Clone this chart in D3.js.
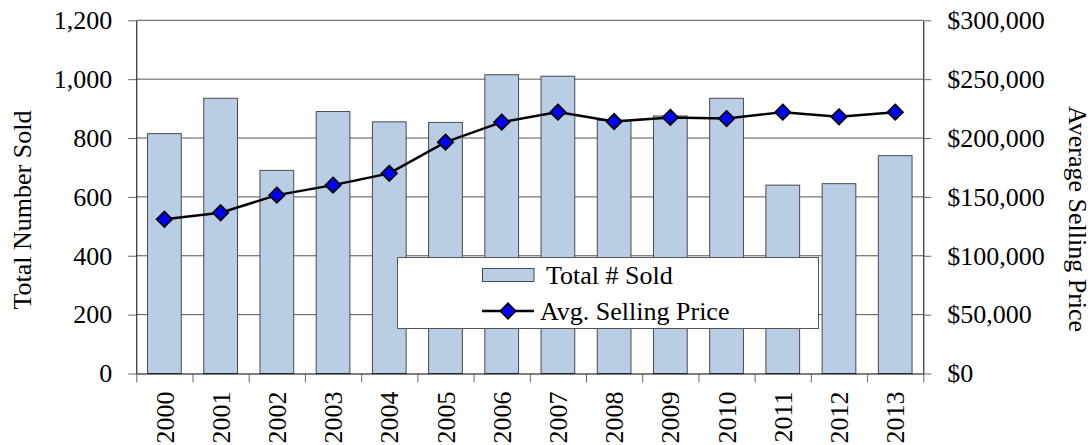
<!DOCTYPE html>
<html>
<head>
<meta charset="utf-8">
<script src="https://cdn.jsdelivr.net/npm/d3@7"></script>
<style>
  body { margin: 0; background: #fff; }
</style>
</head>
<body>
<svg id="chart" width="1092" height="445"></svg>
<script>
// data
const years = ["2000", "2001", "2002", "2003", "2004", "2005", "2006", "2007", "2008", "2009", "2010", "2011", "2012", "2013"];
const totalSold = [815, 935, 690, 890, 855, 853, 1015, 1010, 860, 875, 935, 640, 645, 740];
const avgPrice = [131000, 136500, 151500, 160000, 170000, 196500, 213500, 222000, 214000, 217500, 216500, 222000, 218000, 222000];
const leftTicks = [0, 200, 400, 600, 800, 1000, 1200];
const rightTicks = [0, 50000, 100000, 150000, 200000, 250000, 300000];

const svg = d3.select("#chart");
const font = "Liberation Serif";
const plotL = 136.3, plotR = 923.3, plotT = 20.3, plotB = 373.5;
const fs = 26;

let x = d3.scaleBand().domain(years).range([plotL, plotR]).paddingInner(0.4).paddingOuter(0.2);
let xEdges = d3.scaleLinear().domain([0, years.length]).range([plotL, plotR]);
let yL = d3.scaleLinear().domain([0, 1200]).range([plotB, plotT]);
let yR = d3.scaleLinear().domain([0, 300000]).range([plotB, plotT]);

// gridlines
svg.append("g").selectAll("line").data(leftTicks.filter(d => d > 0)).join("line")
  .attr("x1", plotL).attr("x2", plotR)
  .attr("y1", d => yL(d)).attr("y2", d => yL(d))
  .attr("stroke", "#555").attr("stroke-width", 1);

// bars
svg.append("g").selectAll("rect").data(totalSold).join("rect")
  .attr("x", (d, i) => x(years[i]))
  .attr("y", d => yL(d))
  .attr("width", x.bandwidth())
  .attr("height", d => plotB - yL(d))
  .attr("fill", "#b9cde5").attr("stroke", "#4a4a4a").attr("stroke-width", 1);

// left axis
let gL = svg.append("g").attr("transform", `translate(${plotL},0)`)
  .call(d3.axisLeft(yL).tickValues(leftTicks).tickSize(8).tickSizeOuter(0).tickPadding(16).tickFormat(d3.format(",")));
gL.attr("font-family", font).attr("font-size", fs);
gL.select(".domain").attr("stroke", "#000");
gL.selectAll(".tick line").attr("stroke", "#666");

// right axis
let gR = svg.append("g").attr("transform", `translate(${plotR},0)`)
  .call(d3.axisRight(yR).tickValues(rightTicks).tickSize(8).tickSizeOuter(0).tickPadding(16).tickFormat(d => "$" + d3.format(",")(d)));
gR.attr("font-family", font).attr("font-size", fs);
gR.select(".domain").attr("stroke", "#000");
gR.selectAll(".tick line").attr("stroke", "#666");

// bottom axis: ticks at category edges
let gB = svg.append("g").attr("transform", `translate(0,${plotB})`)
  .call(d3.axisBottom(xEdges).tickValues(d3.range(years.length + 1)).tickSize(9).tickSizeOuter(0).tickFormat(""));
gB.select(".domain").attr("stroke", "#000");
gB.selectAll(".tick line").attr("stroke", "#666");

// year labels
svg.append("g").attr("font-family", font).attr("font-size", fs)
  .selectAll("text").data(years).join("text")
  .attr("transform", d => `translate(${x(d) + x.bandwidth() / 2},${plotB + 18}) rotate(-90)`)
  .attr("text-anchor", "end").attr("dy", "0.35em")
  .text(d => d);

// price line
let line = d3.line().x((d, i) => x(years[i]) + x.bandwidth() / 2).y(d => yR(d));
svg.append("path").datum(avgPrice).attr("d", line)
  .attr("fill", "none").attr("stroke", "#000").attr("stroke-width", 2.5);

let diamond = d3.symbol().type(d3.symbolDiamond2).size(150);
svg.append("g").selectAll("path").data(avgPrice).join("path")
  .attr("transform", (d, i) => `translate(${x(years[i]) + x.bandwidth() / 2},${yR(d)})`)
  .attr("d", diamond)
  .attr("fill", "#0000ff").attr("stroke", "#000").attr("stroke-width", 1.8);

// axis titles
svg.append("text").attr("transform", "translate(22,210) rotate(-90)")
  .attr("font-family", font).attr("font-size", fs)
  .attr("text-anchor", "middle").attr("dy", "0.35em").text("Total Number Sold");
svg.append("text").attr("transform", "translate(1078,219) rotate(90)")
  .attr("font-family", font).attr("font-size", fs)
  .attr("text-anchor", "middle").attr("dy", "0.35em").text("Average Selling Price");

// legend
let lg = svg.append("g").attr("font-family", font).attr("font-size", fs);
lg.append("rect").attr("x", 397.5).attr("y", 257.5).attr("width", 421).attr("height", 71)
  .attr("fill", "#fff").attr("stroke", "#555").attr("stroke-width", 1);
lg.append("rect").attr("x", 482.5).attr("y", 268.5).attr("width", 51.5).attr("height", 13)
  .attr("fill", "#b9cde5").attr("stroke", "#4a4a4a").attr("stroke-width", 1);
lg.append("text").attr("x", 546).attr("y", 275).attr("dy", "0.35em").text("Total # Sold");
lg.append("line").attr("x1", 482).attr("x2", 534).attr("y1", 311).attr("y2", 311)
  .attr("stroke", "#000").attr("stroke-width", 2.5);
lg.append("path").attr("transform", "translate(508,311)").attr("d", diamond)
  .attr("fill", "#0000ff").attr("stroke", "#000").attr("stroke-width", 1.8);
lg.append("text").attr("x", 540).attr("y", 311).attr("dy", "0.35em").text("Avg. Selling Price");
</script>
</body>
</html>
